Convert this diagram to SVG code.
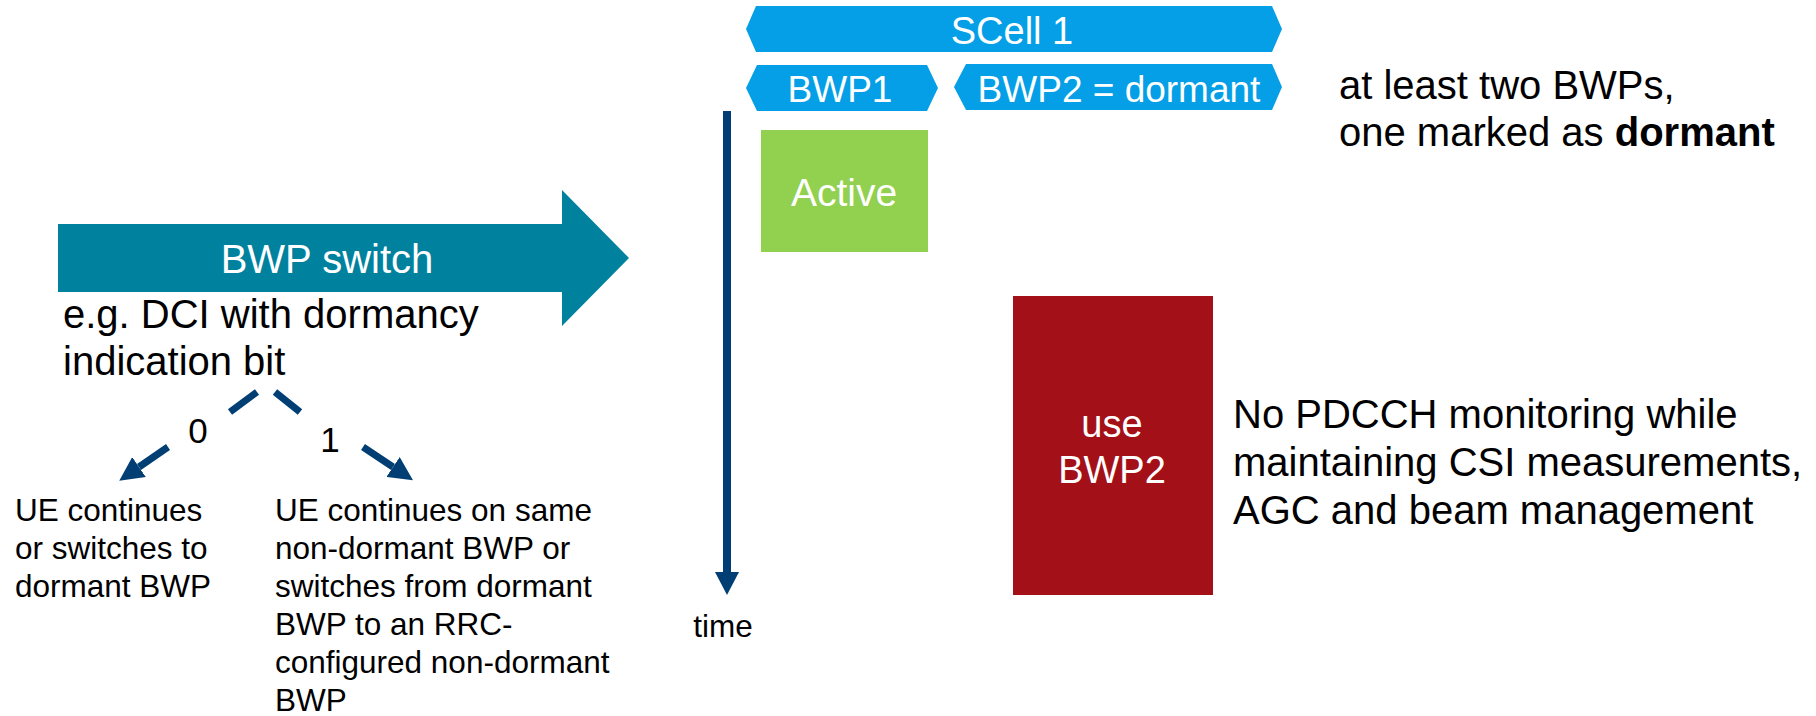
<svg xmlns="http://www.w3.org/2000/svg" width="1816" height="716" viewBox="0 0 1816 716">
  <style>
    text { font-family: "Liberation Sans", Arial, sans-serif; }
    .hex { fill: #049fe6; }
    .on-color { fill: #ffffff; text-anchor: middle; }
    .body { fill: #000000; }
    .lg { font-size: 40px; }
    .sm { font-size: 31.5px; }
    .link { stroke: #003e74; stroke-width: 7; fill: none; }
  </style>
  <defs>
    <marker id="head" viewBox="0 0 10 10" refX="0" refY="5" markerUnits="userSpaceOnUse" markerWidth="24" markerHeight="24" orient="auto">
      <path d="M0,0 L10,5 L0,10 z" fill="#003e74"/>
    </marker>
  </defs>

  <!-- Cell and bandwidth parts -->
  <g id="scell">
    <polygon class="hex" points="746,29 756,6 1272,6 1282,29 1272,52 756,52"/>
    <text class="on-color" x="1012" y="44" font-size="38">SCell 1</text>
  </g>
  <g id="bwp1">
    <polygon class="hex" points="746,88 757,65 927,65 938,88 927,111 757,111"/>
    <text class="on-color" x="840" y="102" font-size="37">BWP1</text>
  </g>
  <g id="bwp2">
    <polygon class="hex" points="954,87 966,64 1272,64 1282,87 1272,110 966,110"/>
    <text class="on-color" x="1119" y="102" font-size="37">BWP2 = dormant</text>
  </g>
  <g id="bwp-note">
    <text class="body lg" x="1339" y="99">at least two BWPs,</text>
    <text class="body lg" x="1339" y="146">one marked as <tspan font-weight="bold">dormant</tspan></text>
  </g>

  <!-- Time axis -->
  <g id="time-axis">
    <line x1="727" y1="111" x2="727" y2="573" stroke="#003e74" stroke-width="8"/>
    <polygon points="715,572 739,572 727,595" fill="#003e74"/>
    <text class="body sm" x="723" y="637" text-anchor="middle">time</text>
  </g>

  <!-- States -->
  <g id="active">
    <rect x="761" y="130" width="167" height="122" fill="#92d050"/>
    <text class="on-color" x="844" y="206" font-size="39">Active</text>
  </g>
  <g id="dormant">
    <rect x="1013" y="296" width="200" height="299" fill="#a31017"/>
    <text class="on-color" x="1112" y="437" font-size="38">use</text>
    <text class="on-color" x="1112" y="483" font-size="38">BWP2</text>
  </g>
  <g id="dormant-note">
    <text class="body lg" x="1233" y="428">No PDCCH monitoring while</text>
    <text class="body lg" x="1233" y="476">maintaining CSI measurements,</text>
    <text class="body lg" x="1233" y="524">AGC and beam management</text>
  </g>

  <!-- Switch command -->
  <g id="bwp-switch">
    <polygon points="58,224 562,224 562,190 629,258 562,326 562,292 58,292" fill="#00829f"/>
    <text class="on-color" x="327" y="273" font-size="40">BWP switch</text>
    <text class="body lg" x="63" y="328">e.g. DCI with dormancy</text>
    <text class="body lg" x="63" y="375">indication bit</text>
  </g>

  <!-- Branches of the indication bit -->
  <g id="connectors">
    <line class="link" x1="257" y1="392" x2="230" y2="412"/>
    <line class="link" x1="168" y1="447" x2="139" y2="467" marker-end="url(#head)"/>
    <line class="link" x1="275" y1="392" x2="300" y2="412"/>
    <line class="link" x1="363" y1="447" x2="393" y2="467" marker-end="url(#head)"/>
  </g>
  <g id="bit-0">
    <text class="body" x="198" y="443" font-size="35" text-anchor="middle">0</text>
  </g>
  <g id="bit-1">
    <text class="body" x="330" y="452" font-size="35" text-anchor="middle">1</text>
  </g>

  <g id="outcome-0">
    <text class="body sm" x="15" y="521">UE continues</text>
    <text class="body sm" x="15" y="559">or switches to</text>
    <text class="body sm" x="15" y="597">dormant BWP</text>
  </g>
  <g id="outcome-1">
    <text class="body sm" x="275" y="521">UE continues on same</text>
    <text class="body sm" x="275" y="559">non-dormant BWP or</text>
    <text class="body sm" x="275" y="597">switches from dormant</text>
    <text class="body sm" x="275" y="635">BWP to an RRC-</text>
    <text class="body sm" x="275" y="673">configured non-dormant</text>
    <text class="body sm" x="275" y="711">BWP</text>
  </g>
</svg>
